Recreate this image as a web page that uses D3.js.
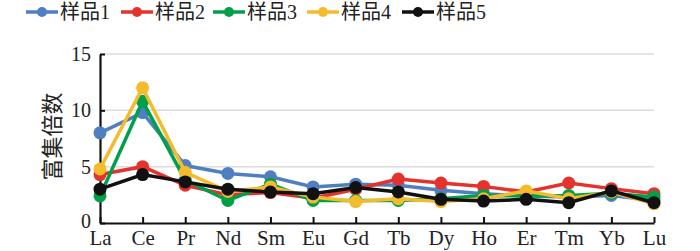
<!DOCTYPE html>
<html>
<head>
<meta charset="utf-8">
<script src="https://cdn.jsdelivr.net/npm/d3@7"></script>
<style>
  body { margin: 0; background: #fff; }
  svg { display: block; font-family: "Liberation Serif", "Noto Sans CJK SC", serif; }
</style>
</head>
<body>
<div id="chart"></div>
<script>
const elements = ["La", "Ce", "Pr", "Nd", "Sm", "Eu", "Gd", "Tb", "Dy", "Ho", "Er", "Tm", "Yb", "Lu"];
const sampleNames = ["样品1", "样品2", "样品3", "样品4", "样品5"];
const sample1 = [8.0, 9.8, 5.1, 4.4, 4.1, 3.2, 3.45, 3.35, 2.9, 2.6, 2.4, 2.3, 2.45, 2.0];
const sample2 = [4.3, 5.0, 3.35, 2.5, 2.7, 2.2, 3.0, 3.9, 3.55, 3.25, 2.75, 3.55, 3.05, 2.6];
const sample3 = [2.4, 10.8, 3.8, 2.0, 3.45, 2.0, 2.0, 2.0, 2.15, 2.45, 2.4, 2.45, 2.65, 2.3];
const sample4 = [4.8, 12.0, 4.5, 2.8, 3.2, 2.3, 1.9, 2.15, 1.9, 2.15, 2.85, 2.15, 2.75, 1.7];
const sample5 = [3.0, 4.3, 3.65, 3.0, 2.75, 2.6, 3.15, 2.75, 2.1, 1.95, 2.1, 1.8, 2.85, 1.8];
const yTicks = [0, 5, 10, 15];
const colors = ["#4f7fc1", "#e5322d", "#00a04b", "#f4bb2d", "#111111"];

const series = [sample1, sample2, sample3, sample4, sample5];

const W = 700, H = 251;
const margin = {top: 54, right: 46, bottom: 28, left: 100};
const width = W - margin.left - margin.right;
const height = H - margin.top - margin.bottom;

const svg = d3.select("#chart").append("svg")
    .attr("width", W)
    .attr("height", H);

const x = d3.scalePoint()
    .domain(elements)
    .range([0, width]);
const y = d3.scaleLinear()
    .domain([0, 15])
    .range([height, 0]);

const g = svg.append("g")
    .attr("transform", `translate(${margin.left},${margin.top})`);

// gridlines
g.selectAll(".grid")
    .data(yTicks.filter(d => d > 0))
    .enter().append("line")
    .attr("x1", 0)
    .attr("x2", width)
    .attr("y1", d => y(d))
    .attr("y2", d => y(d))
    .attr("stroke", "#dcdcdc")
    .attr("stroke-width", 1.5);

// y axis
const yAxis = g.append("g")
    .call(d3.axisLeft(y).tickValues(yTicks).tickSizeInner(-5).tickSizeOuter(0).tickPadding(9));
yAxis.select(".domain").attr("stroke", "#111").attr("stroke-width", 2.2);
yAxis.selectAll(".tick line").attr("stroke", "#111").attr("stroke-width", 2);
yAxis.selectAll("text")
    .attr("font-size", 20)
    .attr("fill", "#222")
    .attr("font-family", "Liberation Serif");
yAxis.selectAll("text").filter(d => d === 0).attr("dy", "0.2em");

// x axis
const xAxis = g.append("g")
    .attr("transform", `translate(0,${height})`)
    .call(d3.axisBottom(x).tickSizeInner(-6).tickSizeOuter(0).tickPadding(7));
xAxis.select(".domain").attr("stroke", "#111").attr("stroke-width", 2.2);
xAxis.selectAll(".tick line").attr("stroke", "#111").attr("stroke-width", 2);
xAxis.selectAll("text")
    .attr("font-size", 21)
    .attr("fill", "#222")
    .attr("font-family", "Liberation Serif");

// y title
svg.append("text")
    .attr("transform", `translate(60,${margin.top + height / 2 - 2}) rotate(-90)`)
    .attr("text-anchor", "middle")
    .attr("font-size", 22)
    .attr("fill", "#222")
    .attr("font-family", "Noto Sans CJK SC")
    .text("富集倍数");

// lines
const line = d3.line()
    .x((d, i) => x(elements[i]))
    .y(d => y(d));

series.forEach((s, k) => {
    g.append("path")
        .datum(s)
        .attr("fill", "none")
        .attr("stroke", colors[k])
        .attr("stroke-width", 3.5)
        .attr("d", line);
    g.selectAll(".pt" + k)
        .data(s)
        .enter().append("circle")
        .attr("cx", (d, i) => x(elements[i]))
        .attr("cy", d => y(d))
        .attr("r", 6.5)
        .attr("fill", colors[k]);
});

// legend
const legendX = [26, 121, 213, 307, 402];
const legend = svg.append("g");
sampleNames.forEach((name, k) => {
    const lg = legend.append("g").attr("transform", `translate(${legendX[k]},12)`);
    lg.append("line")
        .attr("x1", 0).attr("x2", 32)
        .attr("stroke", colors[k])
        .attr("stroke-width", 3.5);
    lg.append("circle")
        .attr("cx", 16).attr("r", 5)
        .attr("fill", colors[k]);
    lg.append("text")
        .attr("x", 34)
        .attr("dy", "0.35em")
        .attr("font-size", 20)
        .attr("fill", "#222")
        .text(name);
});
</script>
</body>
</html>
